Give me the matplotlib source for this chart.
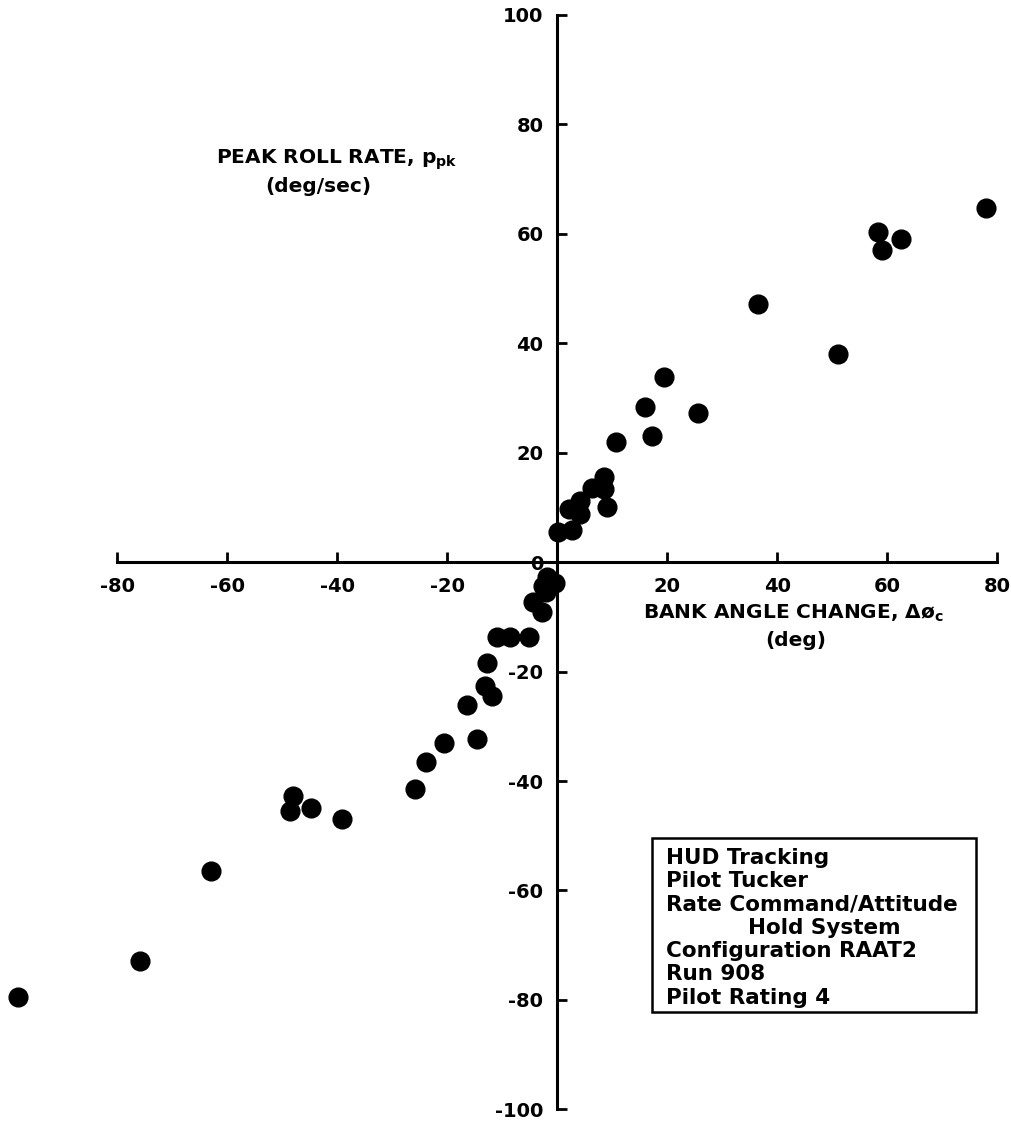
import numpy as np
import matplotlib
matplotlib.use('Agg')
import matplotlib.pyplot as plt

plt.rcParams['font.family'] = 'DejaVu Sans'
plt.rcParams['font.weight'] = 'bold'
plt.rcParams['mathtext.fontset'] = 'dejavusans'

# bank angle change (deg) vs peak roll rate (deg/sec)
bank_angle = [77.9, 58.4, 59.0, 62.5, 36.5, 51.0, 19.4, 15.9, 25.6, 17.3,
              10.7, 8.5, 8.5, 6.3, 4.2, 9.0, 2.1, 4.2, 2.7, 0.2,
              -1.9, -0.4, -2.6, -2.0, -4.4, -2.8, -11.0, -8.5, -5.2, -12.7,
              -13.1, -11.9, -16.4, -14.5, -20.5, -23.8, -25.8, -48.1, -48.5, -44.7,
              -39.1, -63.0, -75.8, -98.1]
peak_roll = [64.7, 60.4, 57.1, 59.0, 47.1, 38.0, 33.8, 28.4, 27.3, 23.1,
             22.0, 15.5, 13.3, 13.6, 11.2, 10.0, 9.7, 8.8, 5.8, 5.5,
             -2.7, -3.9, -4.3, -5.5, -7.3, -9.1, -13.6, -13.7, -13.7, -18.4,
             -22.6, -24.4, -26.2, -32.4, -33.0, -36.5, -41.5, -42.8, -45.5, -45.0,
             -47.0, -56.4, -72.8, -79.4]

xticks = [-80, -60, -40, -20, 20, 40, 60, 80]
yticks = [-100, -80, -60, -40, -20, 0, 20, 40, 60, 80, 100]

box_lines = ["HUD Tracking", "Pilot Tucker", "Rate Command/Attitude",
             "Hold System", "Configuration RAAT2", "Run 908", "Pilot Rating 4"]

fig = plt.figure(figsize=(10.12, 11.22), dpi=100)
ax = fig.add_axes([0, 0, 1, 1])
ax.set_xlim(-101.3, 82.7)
ax.set_ylim(-102.3, 102.7)

ax.plot(bank_angle, peak_roll, 'o', color='black', markersize=13.5, clip_on=False)

for side in ['top', 'right']:
    ax.spines[side].set_visible(False)
ax.spines['left'].set_position(('data', 0))
ax.spines['bottom'].set_position(('data', 0))
ax.spines['left'].set_bounds(-100, 100)
ax.spines['bottom'].set_bounds(-80, 80)
ax.spines['left'].set_linewidth(2.2)
ax.spines['bottom'].set_linewidth(2.2)

ax.set_xticks(xticks)
ax.set_yticks(yticks)
ax.set_xticklabels([str(t) for t in xticks])
ax.set_yticklabels([str(t) for t in yticks])
ax.tick_params(axis='x', direction='in', length=7, width=2, pad=11, labelsize=14)
ax.tick_params(axis='y', direction='in', length=7, width=2, pad=10, labelsize=14)

W, H = 1012.0, 1122.0
def fx(px):
    return px / W
def fy(py):
    return 1 - py / H

fig.text(fx(216), fy(160), r"PEAK ROLL RATE, $\mathbf{p_{pk}}$", fontsize=14.5,
         ha='left', va='center')
fig.text(fx(318), fy(187), "(deg/sec)", fontsize=14.5, ha='center', va='center')
fig.text(fx(643), fy(613), r"BANK ANGLE CHANGE, Δø$_\mathbf{c}$", fontsize=14.5,
         ha='left', va='center')
fig.text(fx(796), fy(641), "(deg)", fontsize=14.5, ha='center', va='center')

# annotation box
ax.add_patch(plt.Rectangle((fx(652), fy(1012)), fx(976) - fx(652), fy(838) - fy(1012),
                           transform=fig.transFigure, fill=False, edgecolor='black',
                           linewidth=1.8))
for i, line in enumerate(box_lines):
    if line == "Hold System":
        fig.text(fx(824), fy(858 + i * 23.3), line, fontsize=15.5, ha='center', va='center')
    else:
        fig.text(fx(666), fy(858 + i * 23.3), line, fontsize=15.5, ha='left', va='center')

fig.savefig('out.png', dpi=100)
